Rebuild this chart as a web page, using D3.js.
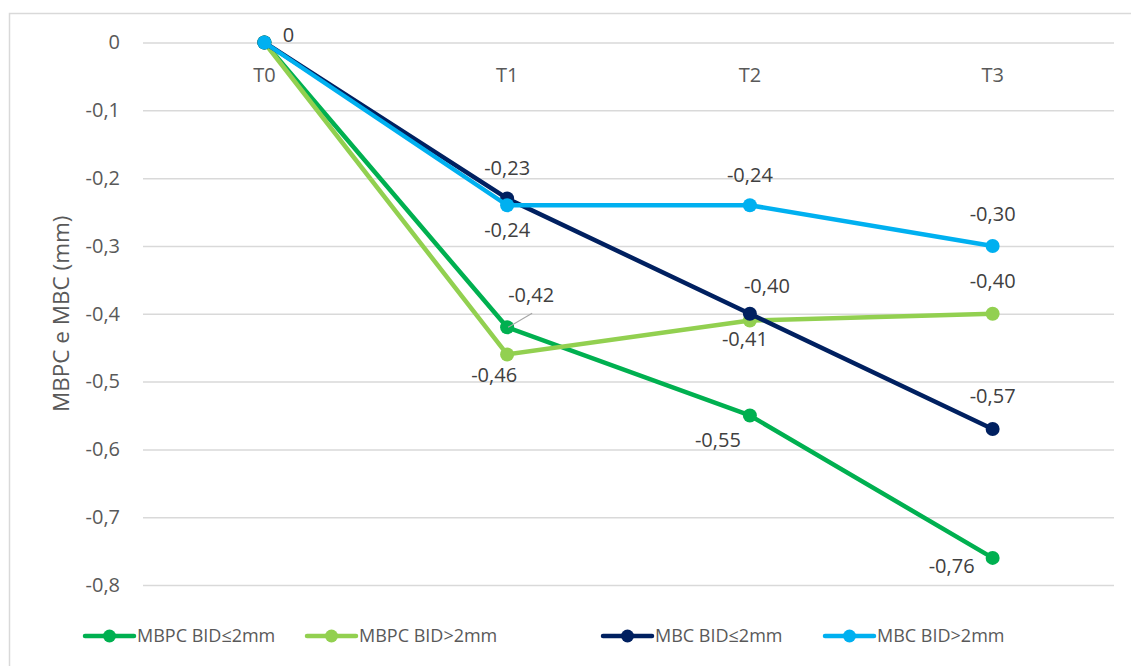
<!DOCTYPE html>
<html>
<head>
<meta charset="utf-8">
<script src="https://cdn.jsdelivr.net/npm/d3@7"></script>
<style>
  body { margin: 0; background: #fff; }
  text { font-family: "Open Sans", "Liberation Sans", sans-serif; }
</style>
</head>
<body>
<div id="chart"></div>
<script>
// data
const categories = ["T0", "T1", "T2", "T3"];
const seriesNames = ["MBPC BID≤2mm", "MBPC BID>2mm", "MBC BID≤2mm", "MBC BID>2mm"];
const mbpcSmall = [0, -0.42, -0.55, -0.76];
const mbpcLarge = [0, -0.46, -0.41, -0.40];
const mbcSmall = [0, -0.23, -0.40, -0.57];
const mbcLarge = [0, -0.24, -0.24, -0.30];
const yTicks = [0, -0.1, -0.2, -0.3, -0.4, -0.5, -0.6, -0.7, -0.8];

const colors = ["#00B050", "#92D050", "#002060", "#00B0F0"];
// data label offsets [dx, dy] from each point (null = hidden, as in the original)
const labelOffset = [
  [null, [24, -25], [-32, 32], [-41, 15]],
  [null, [-13, 28], [-5, 25], [0, -26]],
  [null, [0, -23], [17, -21], [0, -26]],
  [[24, -1], [0, 32], [0, -23], [0, -25]]
];

const W = 1131, H = 666;
const margin = {top: 42.5, right: 17, bottom: 81, left: 143};
const width = W - margin.left - margin.right,
    height = H - margin.top - margin.bottom;

const svg = d3.select("#chart").append("svg")
    .attr("width", W)
    .attr("height", H);

// chart border (only top/left visible in the crop)
svg.append("rect")
    .attr("x", 9.5).attr("y", 13.5)
    .attr("width", W + 20).attr("height", H + 20)
    .attr("fill", "none").attr("stroke", "#d9d9d9").attr("stroke-width", 1.5);

const g = svg.append("g").attr("transform", `translate(${margin.left},${margin.top})`);

const x = d3.scaleBand().domain(categories).range([0, width]);
const y = d3.scaleLinear().domain([-0.8, 0]).range([height, 0]);

const comma = s => s.replace(".", ",").replace("−", "-");
const fmtTick = v => v === 0 ? "0" : comma(d3.format(".1f")(v));
const fmtLabel = v => v === 0 ? "0" : comma(d3.format(".2f")(v));

// gridlines
g.append("g")
    .call(d3.axisLeft(y).tickValues(yTicks).tickSize(-width).tickFormat(""))
    .call(a => a.select(".domain").remove())
    .selectAll("line").attr("stroke", "#d9d9d9").attr("stroke-width", 1.5);

// y tick labels
g.append("g")
    .call(d3.axisLeft(y).tickValues(yTicks).tickSize(0).tickPadding(23).tickFormat(fmtTick))
    .call(a => a.select(".domain").remove())
    .selectAll("text")
      .attr("fill", "#595959")
      .style("font-size", "20px");

// category axis sits on the zero line
g.append("g")
    .attr("transform", `translate(0,${y(0)})`)
    .call(d3.axisBottom(x).tickSize(0).tickPadding(25))
    .call(a => a.select(".domain").remove())
    .selectAll("text")
      .attr("fill", "#595959")
      .style("font-size", "20px");

// y title
svg.append("text")
    .attr("transform", `translate(69,${margin.top + height / 2}) rotate(-90)`)
    .attr("text-anchor", "middle")
    .attr("fill", "#595959")
    .style("font-size", "22.5px")
    .text("MBPC e MBC (mm)");

const allSeries = [mbpcSmall, mbpcLarge, mbcSmall, mbcLarge];
const px = i => x(categories[i]) + x.bandwidth() / 2;

const line = d3.line()
    .x((d, i) => px(i))
    .y(d => y(d));

allSeries.forEach((vals, s) => {
  const grp = g.append("g");
  grp.append("path")
      .datum(vals)
      .attr("fill", "none")
      .attr("stroke", colors[s])
      .attr("stroke-width", 4.5)
      .attr("stroke-linejoin", "round")
      .attr("d", line);
  grp.selectAll("circle")
    .data(vals)
    .join("circle")
      .attr("cx", (d, i) => px(i))
      .attr("cy", d => y(d))
      .attr("r", 7)
      .attr("fill", colors[s]);
});

// leader line for the -0,42 label
g.append("line")
    .attr("x1", px(1) + 1).attr("y1", y(mbpcSmall[1]))
    .attr("x2", px(1) + 25).attr("y2", y(mbpcSmall[1]) - 14)
    .attr("stroke", "#a6a6a6").attr("stroke-width", 1.2);

// data labels
allSeries.forEach((vals, s) => {
  vals.forEach((v, i) => {
    const o = labelOffset[s][i];
    if (!o) return;
    g.append("text")
        .attr("x", px(i) + o[0])
        .attr("y", y(v) + o[1])
        .attr("text-anchor", "middle")
        .attr("fill", "#404040")
        .style("font-size", "20px")
        .text(fmtLabel(v));
  });
});

// legend
const legendX = [85, 307, 603, 825];
const legend = svg.append("g").attr("transform", `translate(0,636)`);
seriesNames.forEach((name, s) => {
  const item = legend.append("g").attr("transform", `translate(${legendX[s]},0)`);
  item.append("line")
      .attr("x1", 0).attr("x2", 49)
      .attr("stroke", colors[s]).attr("stroke-width", 4.5).attr("stroke-linecap", "round");
  item.append("circle").attr("cx", 24.5).attr("r", 6.5).attr("fill", colors[s]);
  item.append("text")
      .attr("x", 52).attr("dy", "0.35em")
      .attr("fill", "#595959")
      .style("font-size", "18px")
      .text(name);
});
</script>
</body>
</html>
